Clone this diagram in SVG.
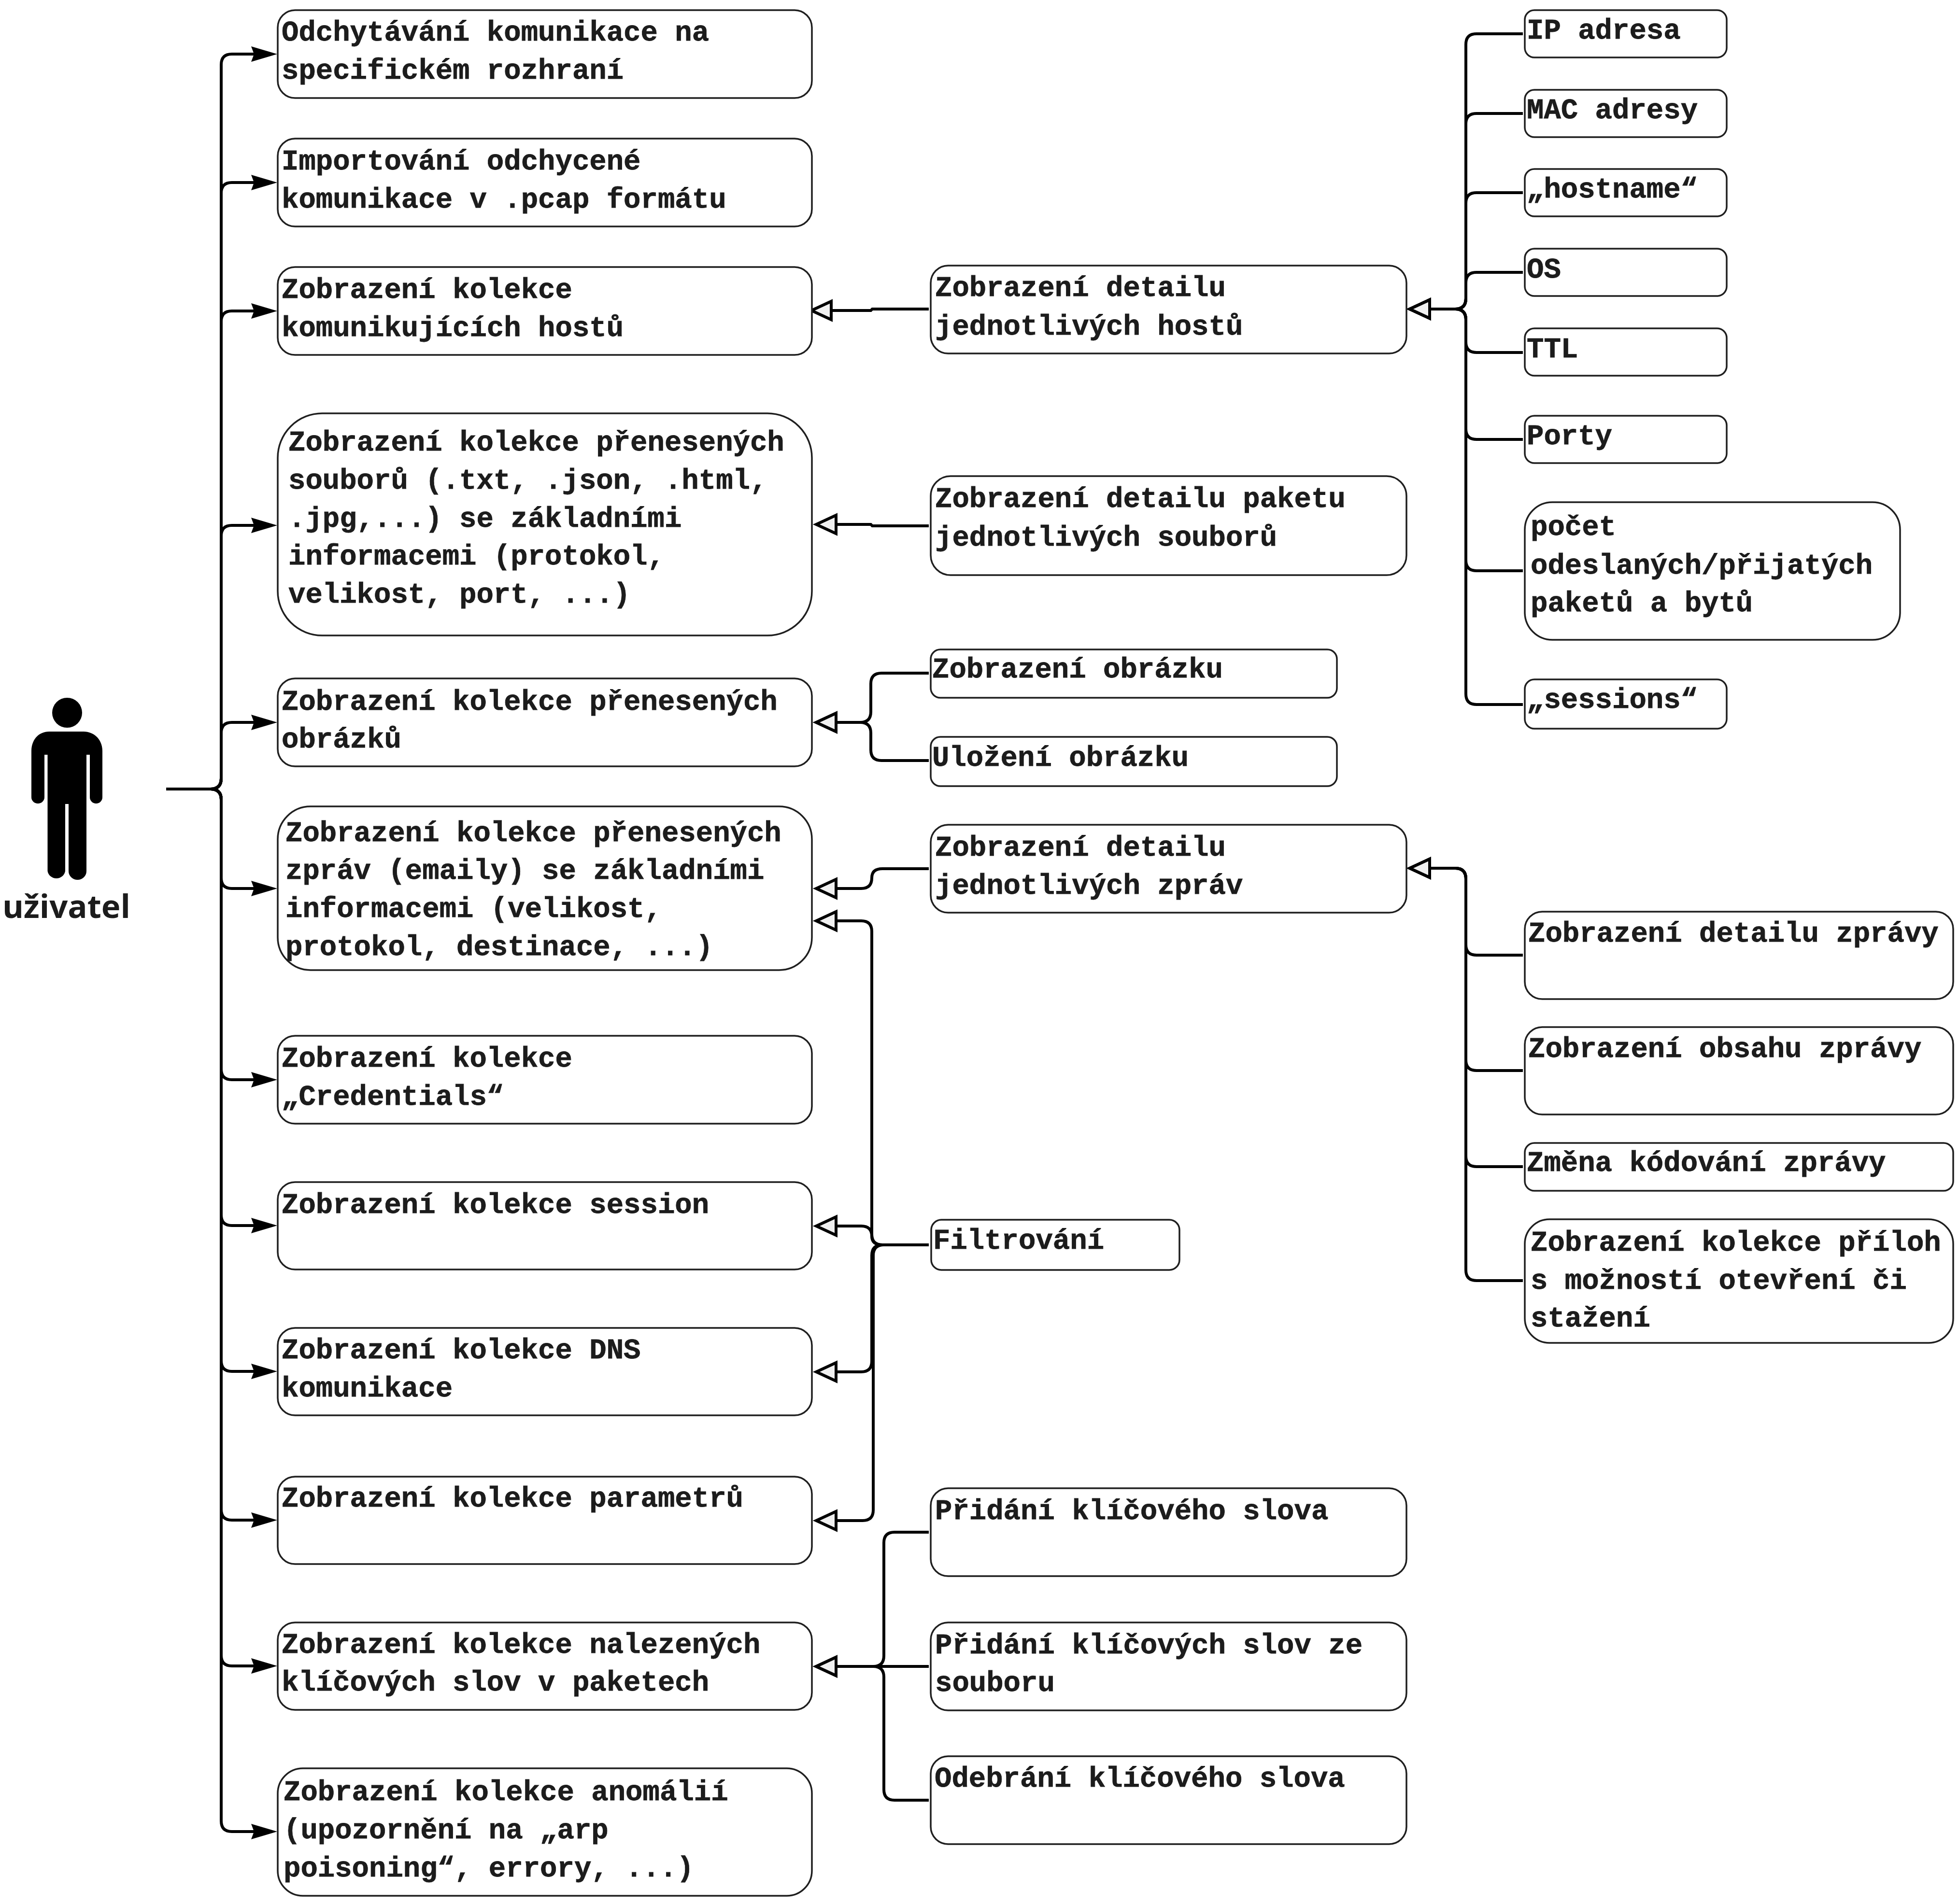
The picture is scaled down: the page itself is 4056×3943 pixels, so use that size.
<svg xmlns="http://www.w3.org/2000/svg" width="4056" height="3943" viewBox="0 0 4056 3943">
<style>
.b{fill:#fff;stroke:#1f1f1f;stroke-width:3.5}
.t{font-family:"Liberation Mono","DejaVu Sans Mono",monospace;font-weight:700;font-size:59px;fill:#1c1c1c;stroke:#1c1c1c;stroke-width:.8}
.c{fill:none;stroke:#000;stroke-width:6}
.s{marker-end:url(#solid)}
.o{marker-end:url(#open)}
.u{font-family:"Open Sans","Noto Sans",sans-serif;font-weight:700;font-size:67px;fill:#1c1c1c}
</style>
<defs>
<marker id="solid" markerUnits="userSpaceOnUse" viewBox="0 0 54 36" markerWidth="54" markerHeight="36" refX="24" refY="18" orient="auto"><path d="M54 18 L0 2 L6 18 L0 34 Z" fill="#000"/></marker>
<marker id="open" markerUnits="userSpaceOnUse" viewBox="0 0 60 60" markerWidth="60" markerHeight="60" refX="8" refY="30" orient="auto"><path d="M49 30 L8 11 L8 49 Z" fill="#f0f0f0" stroke="#000" stroke-width="6"/></marker>
</defs>
<g id="connectors">
<path class="c s" d="M344 1634H436Q458 1634 458 1612V134Q458 112 480 112H544"/>
<path class="c s" d="M344 1634H436Q458 1634 458 1612V400Q458 378 480 378H544"/>
<path class="c s" d="M344 1634H436Q458 1634 458 1612V666Q458 644 480 644H544"/>
<path class="c s" d="M344 1634H436Q458 1634 458 1612V1110Q458 1088 480 1088H544"/>
<path class="c s" d="M344 1634H436Q458 1634 458 1612V1518Q458 1496 480 1496H544"/>
<path class="c s" d="M344 1634H436Q458 1634 458 1656V1818Q458 1840 480 1840H544"/>
<path class="c s" d="M344 1634H436Q458 1634 458 1656V2214Q458 2236 480 2236H544"/>
<path class="c s" d="M344 1634H436Q458 1634 458 1656V2516Q458 2538 480 2538H544"/>
<path class="c s" d="M344 1634H436Q458 1634 458 1656V2818Q458 2840 480 2840H544"/>
<path class="c s" d="M344 1634H436Q458 1634 458 1656V3126Q458 3148 480 3148H544"/>
<path class="c s" d="M344 1634H436Q458 1634 458 1656V3428Q458 3450 480 3450H544"/>
<path class="c s" d="M344 1634H436Q458 1634 458 1656V3771Q458 3793 480 3793H544"/>
<path class="c o" d="M1923 640H1806L1803 643H1721"/>
<path class="c o" d="M1923 1089H1806L1803 1086H1731"/>
<path class="c o" d="M3153 70H3057Q3035 70 3035 92V618Q3035 640 3013 640H2960"/>
<path class="c o" d="M3153 235H3057Q3035 235 3035 257V618Q3035 640 3013 640H2960"/>
<path class="c o" d="M3153 399H3057Q3035 399 3035 421V618Q3035 640 3013 640H2960"/>
<path class="c o" d="M3153 564H3057Q3035 564 3035 586V618Q3035 640 3013 640H2960"/>
<path class="c o" d="M3153 730H3057Q3035 730 3035 708V662Q3035 640 3013 640H2960"/>
<path class="c o" d="M3153 910H3057Q3035 910 3035 888V662Q3035 640 3013 640H2960"/>
<path class="c o" d="M3153 1182H3057Q3035 1182 3035 1160V662Q3035 640 3013 640H2960"/>
<path class="c o" d="M3153 1459H3057Q3035 1459 3035 1437V662Q3035 640 3013 640H2960"/>
<path class="c o" d="M1923 1394H1825Q1803 1394 1803 1416V1474Q1803 1496 1781 1496H1731"/>
<path class="c o" d="M1923 1575H1825Q1803 1575 1803 1553V1518Q1803 1496 1781 1496H1731"/>
<path class="c o" d="M1923 1799H1827Q1805 1799 1805 1818Q1805 1840 1783 1840H1731"/>
<path class="c o" d="M1923 2578H1827Q1805 2578 1805 2556V1929Q1805 1907 1783 1907H1731"/>
<path class="c o" d="M1923 2578H1827Q1805 2578 1805 2560Q1805 2539 1783 2539H1731"/>
<path class="c o" d="M1923 2578H1827Q1805 2578 1805 2600V2819Q1805 2841 1783 2841H1731"/>
<path class="c o" d="M1923 2578H1830Q1808 2578 1808 2600V3127Q1808 3149 1786 3149H1731"/>
<path class="c o" d="M3153 1978H3057Q3035 1978 3035 1956V1820Q3035 1798 3013 1798H2960"/>
<path class="c o" d="M3153 2217H3057Q3035 2217 3035 2195V1820Q3035 1798 3013 1798H2960"/>
<path class="c o" d="M3153 2416H3057Q3035 2416 3035 2394V1820Q3035 1798 3013 1798H2960"/>
<path class="c o" d="M3153 2652H3057Q3035 2652 3035 2630V1820Q3035 1798 3013 1798H2960"/>
<path class="c o" d="M1923 3173H1852Q1830 3173 1830 3195V3429Q1830 3451 1808 3451H1731"/>
<path class="c o" d="M1923 3451H1731"/>
<path class="c o" d="M1923 3728H1852Q1830 3728 1830 3706V3473Q1830 3451 1808 3451H1731"/>
</g>
<g id="actor">
<ellipse cx="139" cy="1476" rx="31" ry="31"/>
<path d="M65 1555C65 1532 80 1515 102 1515H173C195 1515 212 1532 212 1555V1651A13 13 0 0 1 186 1651V1563H179V1804A18.5 18 0 0 1 142 1804V1665H135V1804A18.5 18 0 0 1 98.5 1804V1563H92V1651A13.5 13 0 0 1 65 1651Z"/>
<text class="u" x="5" y="1901">uživatel</text>
</g>
<g id="n1"><rect class="b" x="575" y="21" width="1106" height="182" rx="36"/><text class="t" x="583" y="84">Odchytávání komunikace na</text><text class="t" x="583" y="163">specifickém rozhraní</text></g>
<g id="n2"><rect class="b" x="575" y="287" width="1106" height="182" rx="36"/><text class="t" x="583" y="351">Importování odchycené</text><text class="t" x="583" y="430">komunikace v .pcap formátu</text></g>
<g id="n3"><rect class="b" x="575" y="553" width="1106" height="182" rx="36"/><text class="t" x="583" y="617">Zobrazení kolekce</text><text class="t" x="583" y="696">komunikujících hostů</text></g>
<g id="n4"><rect class="b" x="575" y="856" width="1106" height="460" rx="92"/><text class="t" x="597" y="933">Zobrazení kolekce přenesených</text><text class="t" x="597" y="1012">souborů (.txt, .json, .html,</text><text class="t" x="597" y="1091">.jpg,...) se základními</text><text class="t" x="597" y="1169">informacemi (protokol,</text><text class="t" x="597" y="1248">velikost, port, ...)</text></g>
<g id="n5"><rect class="b" x="575" y="1405" width="1106" height="182" rx="36"/><text class="t" x="583" y="1470">Zobrazení kolekce přenesených</text><text class="t" x="583" y="1548">obrázků</text></g>
<g id="n6"><rect class="b" x="575" y="1670" width="1106" height="339" rx="68"/><text class="t" x="591" y="1742">Zobrazení kolekce přenesených</text><text class="t" x="591" y="1820">zpráv (emaily) se základními</text><text class="t" x="591" y="1899">informacemi (velikost,</text><text class="t" x="591" y="1978">protokol, destinace, ...)</text></g>
<g id="n7"><rect class="b" x="575" y="2145" width="1106" height="182" rx="36"/><text class="t" x="583" y="2209">Zobrazení kolekce</text><text class="t" x="583" y="2288">„Credentials“</text></g>
<g id="n8"><rect class="b" x="575" y="2448" width="1106" height="181" rx="36"/><text class="t" x="583" y="2512">Zobrazení kolekce session</text></g>
<g id="n9"><rect class="b" x="575" y="2750" width="1106" height="181" rx="36"/><text class="t" x="583" y="2813">Zobrazení kolekce DNS</text><text class="t" x="583" y="2892">komunikace</text></g>
<g id="n10"><rect class="b" x="575" y="3058" width="1106" height="181" rx="36"/><text class="t" x="583" y="3120">Zobrazení kolekce parametrů</text></g>
<g id="n11"><rect class="b" x="575" y="3360" width="1106" height="181" rx="36"/><text class="t" x="583" y="3423">Zobrazení kolekce nalezených</text><text class="t" x="583" y="3501">klíčových slov v paketech</text></g>
<g id="n12"><rect class="b" x="575" y="3662" width="1106" height="264" rx="52"/><text class="t" x="587" y="3728">Zobrazení kolekce anomálií</text><text class="t" x="587" y="3807">(upozornění na „arp</text><text class="t" x="587" y="3886">poisoning“, errory, ...)</text></g>
<g id="m1"><rect class="b" x="1927" y="550" width="985" height="182" rx="36"/><text class="t" x="1936" y="613">Zobrazení detailu</text><text class="t" x="1936" y="693">jednotlivých hostů</text></g>
<g id="m2"><rect class="b" x="1927" y="986" width="985" height="205" rx="41"/><text class="t" x="1936" y="1050">Zobrazení detailu paketu</text><text class="t" x="1936" y="1130">jednotlivých souborů</text></g>
<g id="m3"><rect class="b" x="1927" y="1345" width="841" height="100" rx="20"/><text class="t" x="1930" y="1403">Zobrazení obrázku</text></g>
<g id="m4"><rect class="b" x="1927" y="1526" width="841" height="102" rx="20"/><text class="t" x="1930" y="1586">Uložení obrázku</text></g>
<g id="m5"><rect class="b" x="1927" y="1708" width="985" height="182" rx="36"/><text class="t" x="1936" y="1772">Zobrazení detailu</text><text class="t" x="1936" y="1851">jednotlivých zpráv</text></g>
<g id="m6"><rect class="b" x="1928" y="2526" width="514" height="104" rx="21"/><text class="t" x="1932" y="2586">Filtrování</text></g>
<g id="m7"><rect class="b" x="1927" y="3082" width="985" height="182" rx="36"/><text class="t" x="1936" y="3146">Přidání klíčového slova</text></g>
<g id="m8"><rect class="b" x="1927" y="3360" width="985" height="182" rx="36"/><text class="t" x="1936" y="3424">Přidání klíčových slov ze</text><text class="t" x="1936" y="3502">souboru</text></g>
<g id="m9"><rect class="b" x="1927" y="3637" width="985" height="182" rx="36"/><text class="t" x="1935" y="3700">Odebrání klíčového slova</text></g>
<g id="r1"><rect class="b" x="3157" y="21" width="418" height="98" rx="20"/><text class="t" x="3161" y="80">IP adresa</text></g>
<g id="r2"><rect class="b" x="3157" y="186" width="418" height="98" rx="20"/><text class="t" x="3161" y="245">MAC adresy</text></g>
<g id="r3"><rect class="b" x="3157" y="350" width="418" height="98" rx="20"/><text class="t" x="3161" y="409">„hostname“</text></g>
<g id="r4"><rect class="b" x="3157" y="515" width="418" height="98" rx="20"/><text class="t" x="3161" y="575">OS</text></g>
<g id="r5"><rect class="b" x="3157" y="680" width="418" height="98" rx="20"/><text class="t" x="3161" y="740">TTL</text></g>
<g id="r6"><rect class="b" x="3157" y="861" width="418" height="98" rx="20"/><text class="t" x="3161" y="920">Porty</text></g>
<g id="r7"><rect class="b" x="3157" y="1040" width="777" height="285" rx="57"/><text class="t" x="3169" y="1108">počet</text><text class="t" x="3169" y="1188">odeslaných/přijatých</text><text class="t" x="3169" y="1266">paketů a bytů</text></g>
<g id="r8"><rect class="b" x="3157" y="1407" width="418" height="102" rx="20"/><text class="t" x="3161" y="1466">„sessions“</text></g>
<g id="r9"><rect class="b" x="3157" y="1888" width="887" height="181" rx="36"/><text class="t" x="3164" y="1950">Zobrazení detailu zprávy</text></g>
<g id="r10"><rect class="b" x="3157" y="2127" width="887" height="181" rx="36"/><text class="t" x="3164" y="2189">Zobrazení obsahu zprávy</text></g>
<g id="r11"><rect class="b" x="3157" y="2367" width="887" height="99" rx="20"/><text class="t" x="3161" y="2425">Změna kódování zprávy</text></g>
<g id="r12"><rect class="b" x="3157" y="2525" width="887" height="256" rx="51"/><text class="t" x="3169" y="2590">Zobrazení kolekce příloh</text><text class="t" x="3169" y="2669">s možností otevření či</text><text class="t" x="3169" y="2747">stažení</text></g>
</svg>
